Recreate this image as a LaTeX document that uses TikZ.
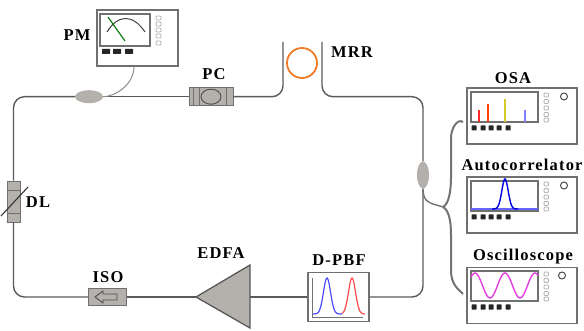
\documentclass[tikz,border=0pt]{standalone}
\usepackage{fontspec}
\setmainfont{Liberation Serif}
\usepackage{tikz}
\usetikzlibrary{calc}
\usetikzlibrary{shapes.geometric}
\definecolor{fibregray}{HTML}{5A5A5A}
\definecolor{partgray}{HTML}{B4B0AB}
\definecolor{framegray}{HTML}{707070}
\definecolor{ringorange}{HTML}{F07A28}
\definecolor{tracemagenta}{HTML}{E53DE0}
\tikzset{
    fibre/.style={draw=fibregray,line width=1.4pt,rounded corners=11pt},
    branch/.style={draw=fibregray!85,line width=2pt},
    part/.style={draw=framegray,fill=partgray,line width=0.9pt,inner sep=0pt},
    coupler/.style={ellipse,fill=partgray,inner sep=0pt},
    instrument/.style={rectangle,draw=framegray,fill=white,line width=1.2pt,inner sep=0pt,minimum width=110pt,minimum height=56pt},
    screen/.style={draw=framegray,line width=1.2pt},
    keyblack/.style={fill=black!85,rounded corners=0.5pt},
    keygray/.style={draw=black!30,line width=0.9pt,rounded corners=1pt},
    tag/.style={font=\bfseries\fontsize{16.5}{16.5}\selectfont\addfontfeature{LetterSpace=7},inner sep=0pt}
}
\begin{document}
\begin{tikzpicture}[>=latex,x=1pt,y=-1pt]
    \useasboundingbox(0,0)rectangle(584,331);
    % parts on the loop
    \node[coupler,minimum width=28pt,minimum height=13pt](tap)at(89,96.7){};
    \node[coupler,minimum width=12pt,minimum height=27pt](outcoupler)at(423,175){};
    \node[part,minimum width=44pt,minimum height=18pt](pc)at(211,96.7){};
    \node[part,minimum width=13pt,minimum height=41pt](dl)at(13.5,201.5){};
    \node[part,minimum width=38pt,minimum height=17pt](iso)at(107.5,297){};
    \node[rectangle,draw=framegray,fill=white,line width=1.2pt,inner sep=0pt,minimum width=61pt,minimum height=49pt](dpbf)at(338.5,297){};
    \node[instrument,minimum width=81pt](pm)at(137.5,38){};
    \node[instrument](osa)at(522,116){};
    \node[instrument](auto)at(522,205){};
    \node[instrument](scope)at(522,295.5){};
    \node[draw=ringorange,circle,line width=1.8pt,minimum size=30pt,inner sep=0pt](mrr)at(302,63){};
    \coordinate(edfatip)at(196,297);
    \coordinate(edfaback)at(250,297);
    \coordinate(addend)at(283,42);
    \coordinate(thruend)at(322,42);
    \coordinate(thruknee)at(322,96.7);
    \coordinate(splitknee)at(443,207);
    \coordinate(osaport)at(463,122);
    \coordinate(scopeport)at(463,294);
    % fibre
    \draw[fibre](tap.west)-|(dl.north);
    \draw[fibre](dl.south)|-(iso.west);
    \draw[fibre](iso.east)--(edfatip);
    \draw[fibre](edfaback)--(dpbf.west);
    \draw[fibre](dpbf.east)-|(outcoupler.south);
    \draw[fibre](outcoupler.north)|-(thruknee)--(thruend);
    \draw[fibre](pc.east)-|(addend);
    \draw[fibre](tap.east)--(pc.west);
    \draw[draw=black!45,line width=1pt]([xshift=-3.5pt]pm.south).. controls +(0,18) and +(12,0) ..(tap.east);
    \draw[branch,line width=1.4pt](outcoupler.south).. controls +(0,15) and +(-12,-4) ..(splitknee);
    \draw[branch](splitknee).. controls +(6,-3) and +(0,12) ..(451,178)--(451,138).. controls +(0,-9) and +(-6,-4) ..(osaport);
    \draw[branch](splitknee).. controls +(6,3) and +(0,-12) ..(451,234)--(451,270).. controls +(0,14) and +(-6,-6) ..(scopeport);
    % polarization controller
    \draw[framegray,line width=0.9pt](193,87.7)--(193,105.7)(199,87.7)--(199,105.7)(226,87.7)--(226,105.7);
    \draw[black!70,line width=0.9pt](211,96.7)ellipse(10 and 7.5);
    % delay line
    \draw[framegray,line width=0.9pt](7,190)--(20,190)(7,213)--(20,213);
    \draw[black!80,line width=1.1pt](1,216)--(28,187);
    % isolator
    \draw[black!70,line width=0.9pt](95,297)--(103,291)--(103,294)--(117,294)--(117,300)--(103,300)--(103,303)--cycle;
    % amplifier
    \draw[draw=black!65,fill=partgray,line width=1.3pt](edfatip)--(250,265)--(250,328)--cycle;
    % filter
    \draw[framegray,line width=1pt](312,278)--(312,317)--(363,317);
    \draw[blue!70,line width=1.2pt]plot[domain=313:342,samples=40](\x,{314-36*exp(-((\x-327)/5)^2)});
    \draw[red!70,line width=1.2pt]plot[domain=342:365,samples=40](\x,{314-36*exp(-((\x-352)/5)^2)});
    % power meter
    \draw[screen](100,14)rectangle(150,46);
    \draw[black!75,line width=1pt](107,32).. controls (118,14) and (133,14) ..(145,32);
    \draw[green!45!black,line width=1.1pt](108,17)--(125,41);
    \foreach \k in {106,117,129}{\fill[keyblack](\k-4,49)rectangle(\k+4,54);}
    \foreach \k in {16,22,28,34,41}{\draw[keygray](156,\k)rectangle(161,\k+4);}
    % three instruments
    \foreach \top/\knobx in {88/564,177/564,267/562}{
        \draw[screen](471,\top+4)rectangle(538,\top+34);
        \foreach \k in {474,483,491,499,508}{\fill[keyblack](\k-2.5,\top+37.5)rectangle(\k+2.5,\top+42.5);}
        \foreach \k in {5,11.5,18,24.5,30}{\draw[keygray](544,\top+\k)rectangle(548.5,\top+\k+4);}
        \draw[black!70,line width=1pt](\knobx,\top+8.5)circle(3.5);
    }
    \draw[red!85,line width=1.8pt](479,122)--(479,110);
    \draw[orange!50!red,line width=1.8pt](488,122)--(488,104);
    \draw[yellow!80!black,line width=1.8pt](505,122)--(505,99);
    \draw[blue!50,line width=1.8pt](525,122)--(525,110);
    \draw[blue!60,line width=1.4pt](471,209)--(538,209);
    \draw[blue!90!black,line width=1.4pt]plot[domain=492:518,samples=40](\x,{209-30*exp(-((\x-505)/4.5)^2)});
    \draw[tracemagenta,line width=1.4pt]plot[domain=471:538,samples=70](\x,{285.5-12.5*cos(12*(\x-475))});
    % labels
    \node[tag](pmlabel)at(77,35){PM};
    \node[tag](pclabel)at(214,74){PC};
    \node[tag](mrrlabel)at(352,52){MRR};
    \node[tag](osalabel)at(513,78){OSA};
    \node[tag](autolabel)at(522,165){Autocorrelator};
    \node[tag](scopelabel)at(523,257){Oscilloscope};
    \node[tag](dllabel)at(38,202){DL};
    \node[tag](isolabel)at(108,277){ISO};
    \node[tag](edfalabel)at(221,253){EDFA};
    \node[tag](dpbflabel)at(339,260){D-PBF};
\end{tikzpicture}
\end{document}
